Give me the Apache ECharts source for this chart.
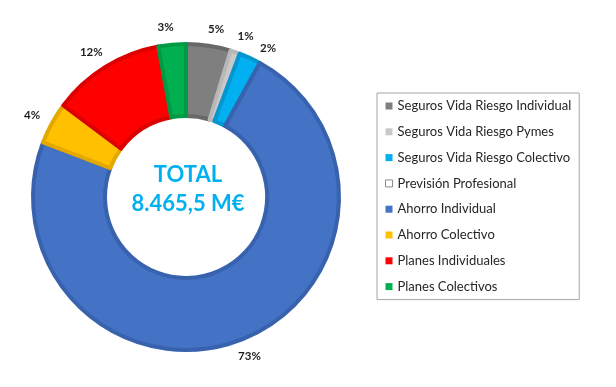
<!DOCTYPE html>
<html><head><meta charset="utf-8">
<script src="https://cdn.jsdelivr.net/npm/echarts@6/dist/echarts.min.js"></script>
<style>html,body{margin:0;padding:0;background:#fff}#c{width:616px;height:387px}</style>
</head><body><div id="c"></div>
<script>
const categories = ['Seguros Vida Riesgo Individual','Seguros Vida Riesgo Pymes','Seguros Vida Riesgo Colectivo','Previsión Profesional','Ahorro Individual','Ahorro Colectivo','Planes Individuales','Planes Colectivos'];
const values = [398, 85, 195, 0, 6158.5, 372, 1007, 245];
const totalLines = ['TOTAL', '8.465,5 M€'];
const colors = ['#7f7f7f','#c9c9c9','#00b0f0','#ffffff','#4472c4','#ffc000','#ff0000','#00b050'];
const borders = ['#686868','#b8b8b8','#0596d0','#a6a6a6','#3862ae','#e3a900','#dc0000','#009a45'];

const FONT = 'Lato, "Open Sans", sans-serif';
const chart = echarts.init(document.getElementById('c'), null, {renderer: 'canvas'});

const pieData = categories.map((n, i) => ({
  name: n,
  value: values[i],
  itemStyle: {color: colors[i], borderColor: borders[i], borderWidth: values[i] > 0 ? 4 : 0},
  label: {show: values[i] > 0}
}));

const legendData = categories.map((n, i) => ({
  name: n,
  itemStyle: {color: colors[i], borderColor: i === 3 ? '#8c8c8c' : colors[i], borderWidth: i === 3 ? 1 : 0}
}));

chart.setOption({
  animation: false,
  backgroundColor: '#ffffff',
  legend: {
    orient: 'vertical',
    left: 377,
    top: 93,
    padding: [6, 8, 6, 8],
    itemGap: 11.8,
    itemWidth: 7,
    itemHeight: 7,
    icon: 'rect',
    borderColor: '#a6a6a6',
    borderWidth: 1,
    selectedMode: false,
    data: legendData,
    textStyle: {fontSize: 13, color: '#262626', fontFamily: FONT, lineHeight: 14}
  },
  graphic: [
    {type: 'text', x: 188, y: 175, style: {text: totalLines[0], fill: '#00b0f0', font: 'bold 22px ' + FONT, align: 'center', verticalAlign: 'middle'}},
    {type: 'text', x: 188, y: 204, style: {text: totalLines[1], fill: '#00b0f0', font: 'bold 22px ' + FONT, align: 'center', verticalAlign: 'middle'}}
  ],
  series: [{
    type: 'pie',
    center: [186, 197],
    radius: [81, 153],
    startAngle: 90,
    clockwise: true,
    avoidLabelOverlap: false,
    emphasis: {disabled: true},
    label: {
      show: true,
      position: 'outside',
      formatter: p => Math.round(p.percent) + '%',
      fontSize: 11.5,
      fontWeight: 'bold',
      color: '#1f1f1f',
      fontFamily: FONT
    },
    labelLine: {show: false, length: 17, length2: 0},
    labelLayout: p => (p.dataIndex === 2
      ? {align: 'center', verticalAlign: 'middle', dx: 6, dy: 6}
      : {align: 'center', verticalAlign: 'middle'}),
    data: pieData
  }]
});
</script></body></html>
